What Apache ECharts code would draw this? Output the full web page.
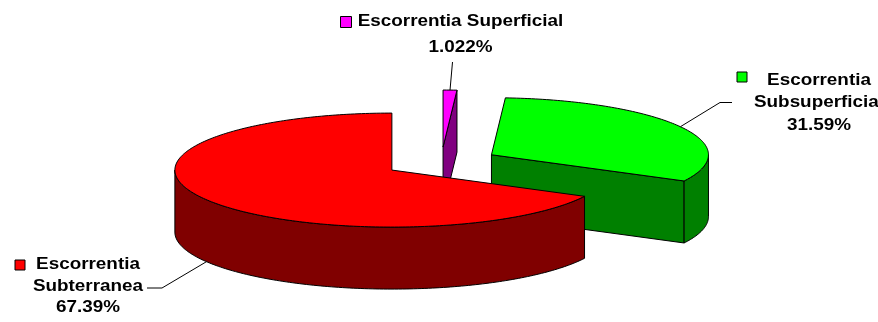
<!DOCTYPE html>
<html>
<head>
<meta charset="utf-8">
<script src="https://cdn.jsdelivr.net/npm/echarts@6/dist/echarts.min.js"></script>
<style>
  html, body { margin: 0; padding: 0; background: #fff; }
  #chart { width: 878px; height: 322px; }
</style>
</head>
<body>
<div id="chart"></div>
<script>
// Runoff components (%)
const categories = ['Escorrentia Superficial', 'Escorrentia Subsuperficial', 'Escorrentia Subterranea'];
const values = [1.022, 31.59, 67.39];
const wrapName = [false, true, true];

const topColors = ['#FF00FF', '#00FF00', '#FF0000'];
const sideColors = ['#800080', '#008000', '#800000'];

// 3D pie projection: ellipse radii, wall thickness, explode offset (fraction of radius)
const PIE = { cx: 441.2, cy: 162.2, rx: 217, ry: 57, depth: 62, explode: 0.266 };

// Label placement: legend key box, text centre, line middles, leader start points, anchor height
const LABELS = [
  { key: [340.5, 16.5, 11, 11], cx: 460.5, lines: [21, 47], leader: [[452.5, 62]], anchorDepth: 0 },
  { key: [737, 72, 10, 10], cx: 819, lines: [80, 102, 125.5], leader: [[732, 102.5], [720, 102.5]], anchorDepth: 0 },
  { key: [15, 260, 10, 10], cx: 88, lines: [264, 286, 307], leader: [[147, 288], [162, 288]], anchorDepth: 1 }
];

const FONT = 'bold 17px "Liberation Sans", Arial, sans-serif';
const TEXT_SCALE_X = 1.11;

const total = values.reduce((a, b) => a + b, 0);
const startAngles = [];
{
  let acc = 0;
  values.forEach(v => { startAngles.push(acc / total * 360); acc += v; });
}

const rad = d => d * Math.PI / 180;

function rimPoint(ax, ay, deg, dz) {
  return [ax + PIE.rx * Math.sin(rad(deg)), ay - PIE.ry * Math.cos(rad(deg)) + (dz || 0)];
}

function arc(ax, ay, a0, a1, dz) {
  const pts = [];
  const n = Math.max(2, Math.ceil(Math.abs(a1 - a0)));
  for (let i = 0; i <= n; i++) {
    pts.push(rimPoint(ax, ay, a0 + (a1 - a0) * i / n, dz));
  }
  return pts;
}

function renderItem(params, api) {
  const i = params.dataIndex;
  const v = api.value(0);
  const a0 = startAngles[i];
  const a1 = a0 + v / total * 360;
  const mid = (a0 + a1) / 2;
  const ax = PIE.cx + PIE.explode * PIE.rx * Math.sin(rad(mid));
  const ay = PIE.cy - PIE.explode * PIE.ry * Math.cos(rad(mid));
  const d = PIE.depth;
  const children = [];
  const faceStyle = (fill) => ({ fill: fill, stroke: '#000', lineWidth: 1, lineJoin: 'round' });

  // radial walls facing the viewer
  [[a0, Math.sin(rad(a0)) < -1e-6], [a1, Math.sin(rad(a1)) > 1e-6]].forEach(([a, visible]) => {
    if (!visible) return;
    const r = rimPoint(ax, ay, a);
    children.push({
      type: 'polygon',
      shape: { points: [[ax, ay], r, [r[0], r[1] + d], [ax, ay + d]] },
      style: faceStyle(sideColors[i])
    });
  });

  // outer curved wall on the front half
  const s = Math.max(a0, 90), e = Math.min(a1, 270);
  if (e > s) {
    const topArc = arc(ax, ay, s, e, 0);
    const botArc = arc(ax, ay, e, s, d);
    children.push({
      type: 'polygon',
      shape: { points: topArc.concat(botArc) },
      style: faceStyle(sideColors[i])
    });
  }

  // top face
  children.push({
    type: 'polygon',
    shape: { points: [[ax, ay]].concat(arc(ax, ay, a0, a1, 0)) },
    style: faceStyle(topColors[i])
  });

  // leader line and data label
  const L = LABELS[i];
  const anchor = rimPoint(ax, ay, mid, L.anchorDepth * d);
  children.push({
    type: 'polyline',
    shape: { points: L.leader.concat([anchor]) },
    style: { stroke: '#000', lineWidth: 1, fill: null }
  });
  children.push({
    type: 'rect',
    shape: { x: L.key[0], y: L.key[1], width: L.key[2], height: L.key[3] },
    style: { fill: topColors[i], stroke: '#000', lineWidth: 1 }
  });
  const name = categories[i];
  const textLines = (wrapName[i] ? name.split(' ') : [name]).concat([v + '%']);
  textLines.forEach((t, k) => {
    children.push({
      type: 'text',
      x: L.cx,
      y: L.lines[k],
      scaleX: TEXT_SCALE_X,
      style: {
        text: t, x: 0, y: 0, fill: '#000', font: FONT,
        align: 'center', verticalAlign: 'middle',
        textAlign: 'center', textVerticalAlign: 'middle'
      }
    });
  });

  return { type: 'group', children: children };
}

const chart = echarts.init(document.getElementById('chart'), null, { renderer: 'canvas' });
chart.setOption({
  backgroundColor: '#fff',
  animation: false,
  series: [{
    type: 'custom',
    coordinateSystem: 'none',
    renderItem: renderItem,
    data: values.map((v, i) => ({ name: categories[i], value: [v] }))
  }]
});
</script>
</body>
</html>
